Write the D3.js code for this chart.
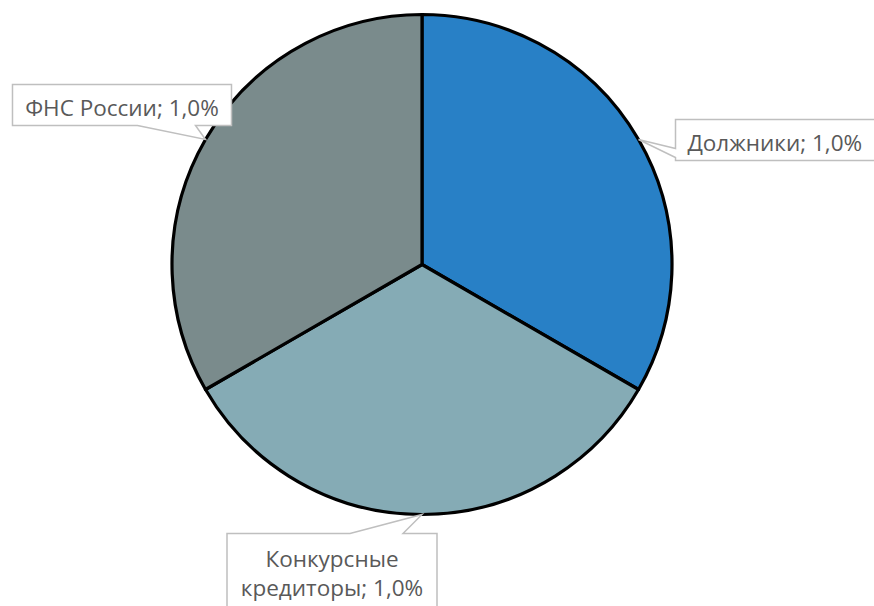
<!DOCTYPE html>
<meta charset="utf-8">
<script src="https://d3js.org/d3.v7.min.js"></script>
<style>
  body { margin: 0; background: #fff; }
</style>
<div id="pie_chart"></div>
<script>
  // data
  const categories = ["Должники", "Конкурсные кредиторы", "ФНС России"];
  const values = [1, 1, 1];
  const valueLabels = ["1,0%", "1,0%", "1,0%"];
  const colors = ["#2880c6", "#85abb5", "#7a8b8c"];

  const width = 874, height = 606;
  const cx = 422, cy = 264.5, radius = 250;

  const svg = d3.select("#pie_chart")
    .append("svg")
      .attr("width", width)
      .attr("height", height);

  const g = svg.append("g")
    .attr("transform", "translate(" + cx + "," + cy + ")");

  const pie = d3.pie().sort(null).value(d => d.value);
  const arc = d3.arc().innerRadius(0).outerRadius(radius);

  const data = categories.map((c, i) => ({ name: c, value: values[i], label: valueLabels[i], color: colors[i] }));
  const arcs = pie(data);

  g.selectAll("path.slice")
    .data(arcs)
    .enter()
    .append("path")
      .attr("class", "slice")
      .attr("d", arc)
      .attr("fill", d => d.data.color)
      .attr("stroke", "black")
      .attr("stroke-width", 3.2)
      .attr("stroke-linejoin", "round");

  // callout boxes: box relative to the tip on the pie edge, plus which side the pointer sits on
  const callouts = [
    { dx: 37, dy: -20, w: 220, h: 41, side: "left", a: 9, b: 18, base: 31, lines: ["Должники; 1,0%"] },
    { dx: -195, dy: 19, w: 210, h: 90, side: "top", a: -72, b: -19, base: 33, lines: ["Конкурсные", "кредиторы; 1,0%"] },
    { dx: -193, dy: -55, w: 219, h: 41, side: "bottom", a: -68, b: -10, base: 31, lines: ["ФНС России; 1,0%"] }
  ];

  const labels = svg.append("g");

  arcs.forEach((d, i) => {
    const ang = (d.startAngle + d.endAngle) / 2;
    const tx = cx + radius * Math.sin(ang);
    const ty = cy - radius * Math.cos(ang);
    const c = callouts[i];
    const x0 = tx + c.dx, y0 = ty + c.dy, x1 = x0 + c.w, y1 = y0 + c.h;
    let pts;
    if (c.side === "left") {
      pts = [[x0, y0], [x1, y0], [x1, y1], [x0, y1], [x0, ty + c.b], [tx, ty], [x0, ty + c.a]];
    } else if (c.side === "top") {
      pts = [[x0, y0], [tx + c.a, y0], [tx, ty], [tx + c.b, y0], [x1, y0], [x1, y1], [x0, y1]];
    } else {
      pts = [[x0, y0], [x1, y0], [x1, y1], [tx + c.b, y1], [tx, ty], [tx + c.a, y1], [x0, y1]];
    }
    labels.append("path")
      .attr("d", d3.line()(pts) + "Z")
      .attr("fill", "white")
      .attr("stroke", "#bfbfbf")
      .attr("stroke-width", 1.5);

    const text = labels.append("text")
      .attr("text-anchor", "middle")
      .attr("font-family", "'Open Sans', sans-serif")
      .attr("font-size", 22.5)
      .attr("fill", "#595959");
    c.lines.forEach((ln, j) => {
      text.append("tspan")
        .attr("x", (x0 + Math.min(x1, width)) / 2)
        .attr("y", y0 + c.base + j * 29)
        .text(ln);
    });
  });
</script>
